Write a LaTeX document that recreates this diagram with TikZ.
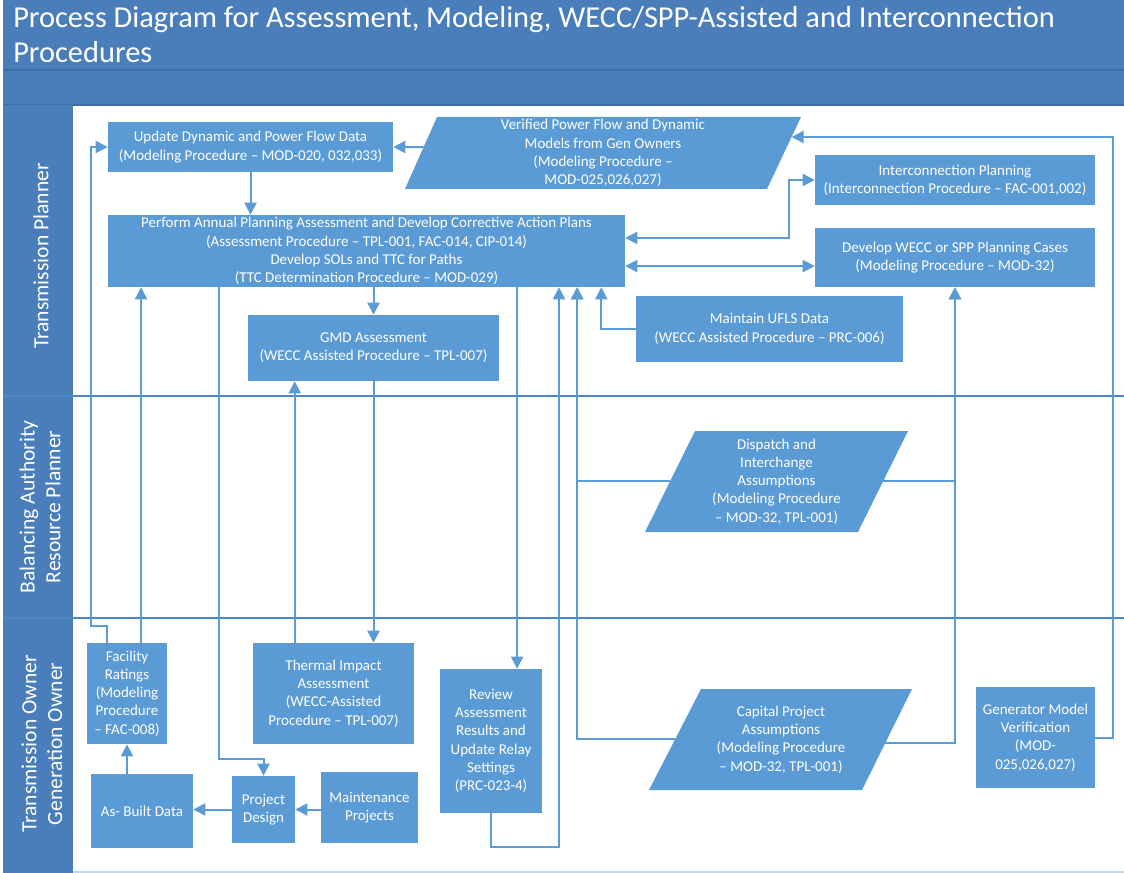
\documentclass[tikz,border=0pt]{standalone}
\usepackage{fontspec}
\setmainfont{Carlito}
\usetikzlibrary{arrows.meta,calc}
\definecolor{hdr}{HTML}{4A7EBB}
\definecolor{hdrline}{HTML}{3E6DA6}
\definecolor{boxc}{HTML}{5B9BD5}
\definecolor{linec}{HTML}{5B9BD5}
\definecolor{lanec}{HTML}{4F87C6}
\newcommand\boxfont{\fontsize{11.25pt}{13.7pt}\selectfont}
\newcommand\titlefont{\fontsize{22.8pt}{26pt}\selectfont}
\newcommand\lanefont{\fontsize{16.2pt}{19.3pt}\selectfont}
\tikzset{
  bx/.style 2 args={minimum width=#1*0.75pt, minimum height=#2*0.75pt},
  box/.style={fill=boxc, text=white, align=center, inner sep=0pt, font=\boxfont},
  ptxt/.style={text=white, align=center, inner sep=0pt, font=\boxfont},
  ttl/.style={text=white, inner sep=0pt, font=\titlefont},
  lanelbl/.style={text=white, align=center, inner sep=0pt, font=\lanefont, rotate=90},
  conn/.style={draw=linec, line width=1.5pt},
  arr/.style={conn, -{Triangle[length=9pt,width=9pt]}},
  darr/.style={conn, {Triangle[length=9pt,width=9pt]}-{Triangle[length=9pt,width=9pt]}},
}
\begin{document}
\begin{tikzpicture}[x=0.75pt,y=-0.75pt]
\fill[white] (0,0) rectangle (1124,873);
\useasboundingbox (0,0) rectangle (1124,873);
% header and lanes
\fill[hdr] (3,0) rectangle (1124,105);
\draw[hdrline, line width=1pt] (3,70) -- (1124,70);
\draw[hdrline, line width=0.8pt] (3,105) -- (1124,105);
\fill[hdr] (3,105) rectangle (73,873);
\draw[lanec, line width=1.5pt] (3,396) -- (1124,396);
\draw[lanec, line width=1.5pt] (3,618) -- (1124,618);
\draw[lanec!35, line width=1pt] (73,872) -- (1124,872);
\node[ttl, anchor=base west] (t1) at (13,28) {Process Diagram for Assessment, Modeling, WECC/SPP-Assisted and Interconnection};
\node[ttl, anchor=base west] (t2) at (13,63) {Procedures};
\node[lanelbl] (lane1) at (41,256) {Transmission Planner};
\node[lanelbl] (lane2) at (40,507) {Balancing Authority\\Resource Planner};
\node[lanelbl] (lane3) at (42,744) {Transmission Owner\\Generation Owner};
% boxes
\node[box, bx={285}{50}] (upd) at (250.5,147) {Update Dynamic and Power Flow Data\\(Modeling Procedure – MOD-020, 032,033)};
\node[box, bx={517}{72}] (perf) at (366.5,251) {Perform Annual Planning Assessment and Develop Corrective Action Plans\\(Assessment Procedure – TPL-001, FAC-014, CIP-014)\\Develop SOLs and TTC for Paths\\(TTC Determination Procedure – MOD-029)};
\node[box, bx={280}{50}] (inter) at (955,180) {Interconnection Planning\\(Interconnection Procedure – FAC-001,002)};
\node[box, bx={280}{59}] (wecc) at (955,257.5) {Develop WECC or SPP Planning Cases\\(Modeling Procedure – MOD-32)};
\node[box, bx={267}{66}] (ufls) at (769.5,329) {Maintain UFLS Data\\(WECC Assisted Procedure – PRC-006)};
\node[box, bx={251}{66}] (gmd) at (373.5,348) {GMD Assessment\\(WECC Assisted Procedure – TPL-007)};
\node[box, bx={80}{101}] (fac) at (127,693.5) {Facility\\Ratings\\(Modeling\\Procedure\\– FAC-008)};
\node[box, bx={161}{101}] (therm) at (333.5,693.5) {Thermal Impact\\Assessment\\(WECC-Assisted\\Procedure – TPL-007)};
\node[box, bx={102}{144}] (rev) at (491,741) {Review\\Assessment\\Results and\\Update Relay\\Settings\\(PRC-023-4)};
\node[box, bx={119}{101}] (gen) at (1035.5,737.5) {Generator Model\\Verification\\(MOD-\\025,026,027)};
\node[box, bx={102}{74}] (asb) at (142,811) {As- Built Data};
\node[box, bx={63}{67}] (pd) at (263.5,809.5) {Project\\Design};
\node[box, bx={97}{71}] (maint) at (369.5,807.5) {Maintenance\\Projects};
% parallelograms
\fill[boxc] (405,189) coordinate (verBL) -- (767,189) coordinate (verBR) -- (801,117) coordinate (verTR) -- (437,117) coordinate (verTL) -- cycle;
\node[ptxt] (ver) at (603,153) {Verified Power Flow and Dynamic\\Models from Gen Owners\\(Modeling Procedure –\\MOD-025,026,027)};
\fill[boxc] (645,532) coordinate (dispBL) -- (858,532) coordinate (dispBR) -- (908,431) coordinate (dispTR) -- (695,431) coordinate (dispTL) -- cycle;
\node[ptxt] (disp) at (776.5,481.5) {Dispatch and\\Interchange\\Assumptions\\(Modeling Procedure\\– MOD-32, TPL-001)};
\fill[boxc] (649,790) coordinate (capBL) -- (862,790) coordinate (capBR) -- (912,689) coordinate (capTR) -- (701,689) coordinate (capTL) -- cycle;
\node[ptxt] (cap) at (781,739.5) {Capital Project\\Assumptions\\(Modeling Procedure\\– MOD-32, TPL-001)};
\coordinate (verW) at ($(verBL)!0.583!(verTL)$);
\coordinate (verE) at ($(verBR)!0.722!(verTR)$);
\coordinate (dispW) at ($(dispBL)!0.505!(dispTL)$);
\coordinate (dispE) at ($(dispBR)!0.505!(dispTR)$);
\coordinate (capW) at ($(capBL)!0.505!(capTL)$);
\coordinate (capE) at ($(capBR)!0.465!(capTR)$);
% attachment points
\coordinate (pA) at ($(perf.north east)!0.32!(perf.south east)$);
\coordinate (pB) at ($(perf.north east)!0.708!(perf.south east)$);
\coordinate (pS1) at ($(perf.south west)!0.215!(perf.south east)$);
\coordinate (pS2) at ($(perf.south west)!0.791!(perf.south east)$);
\coordinate (pS3) at ($(perf.south west)!0.872!(perf.south east)$);
\coordinate (pS4) at ($(perf.south west)!0.907!(perf.south east)$);
\coordinate (pS5) at ($(perf.south east)+(-24,0)$);
\coordinate (fA) at ($(fac.north west)!0.25!(fac.north east)$);
\coordinate (fB) at ($(fac.north west)!0.675!(fac.north east)$);
\coordinate (tA) at ($(therm.north west)!0.26!(therm.north east)$);
% connectors
\draw[arr] (verW) -- (upd.east);
\draw[arr] (upd.south) -- (upd.south |- perf.north);
\draw[darr] (pA) -| ($(inter.west)+(-26,0)$) -- (inter.west);
\draw[darr] (pB) -- (pB -| wecc.west);
\draw[arr] (perf.south -| gmd.north) -- (gmd.north);
\draw[arr] (gmd.south) -- (gmd.south |- therm.north);
\draw[arr] (tA) -- (tA |- gmd.south);
\draw[arr] (ufls.west) -| (pS5);
\draw[arr] (fB) -- (fB |- perf.south);
\draw[arr] (fA) -- ++(0,-17) -| ($(upd.west)+(-17,0)$) -- (upd.west);
\draw[arr] (pS1) |- ($(pd.north)+(0,-17)$) -- (pd.north);
\draw[arr] (pd.east -| maint.west) -- (pd.east);
\draw[arr] (pd.west) -- (pd.west -| asb.east);
\draw[arr] (fac.south |- asb.north) -- (fac.south);
\draw[arr] (pS2) -- (pS2 |- rev.north);
\draw[arr] (rev.south) -- ++(0,34) -| (pS3);
\draw[arr] (dispW) -| (pS4);
\draw[arr] (capW) -| (pS4);
\draw[arr] (dispE) -| (wecc.south);
\draw[arr] (capE) -| (wecc.south);
\draw[arr] (gen.east) -- ++(18,0) |- (verE);
\end{tikzpicture}
\end{document}
